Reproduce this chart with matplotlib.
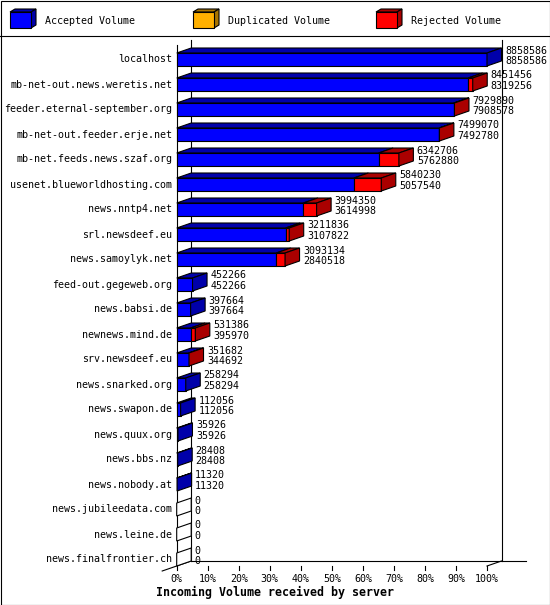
import matplotlib
matplotlib.use('Agg')
import matplotlib.pyplot as plt
from matplotlib.patches import Polygon, Rectangle

# ---------------- data ----------------
categories = [
    "localhost",
    "mb-net-out.news.weretis.net",
    "feeder.eternal-september.org",
    "mb-net-out.feeder.erje.net",
    "mb-net.feeds.news.szaf.org",
    "usenet.blueworldhosting.com",
    "news.nntp4.net",
    "srl.newsdeef.eu",
    "news.samoylyk.net",
    "feed-out.gegeweb.org",
    "news.babsi.de",
    "newnews.mind.de",
    "srv.newsdeef.eu",
    "news.snarked.org",
    "news.swapon.de",
    "news.quux.org",
    "news.bbs.nz",
    "news.nobody.at",
    "news.jubileedata.com",
    "news.leine.de",
    "news.finalfrontier.ch",
]
total_volume = [8858586, 8451456, 7929890, 7499070, 6342706, 5840230, 3994350,
                3211836, 3093134, 452266, 397664, 531386, 351682, 258294,
                112056, 35926, 28408, 11320, 0, 0, 0]
accepted_volume = [8858586, 8319256, 7908578, 7492780, 5762880, 5057540, 3614998,
                   3107822, 2840518, 452266, 397664, 395970, 344692, 258294,
                   112056, 35926, 28408, 11320, 0, 0, 0]
duplicated_volume = [0, 0, 0, 0, 0, 0, 0, 0, 0, 0, 0, 0, 0, 0, 0, 0, 0, 0, 0, 0, 0]
legend_labels = ["Accepted Volume", "Duplicated Volume", "Rejected Volume"]
tick_values = [0, 10, 20, 30, 40, 50, 60, 70, 80, 90, 100]
tick_labels = ["0%", "10%", "20%", "30%", "40%", "50%", "60%", "70%", "80%", "90%", "100%"]
x_title = "Incoming Volume received by server"

# ---------------- style ----------------
W, H = 550, 605
FONT = "DejaVu Sans Mono"
FS = 7.2
LW = 0.8
front_colors = ["#0000FF", "#FFB000", "#FF0000"]
dark_colors = ["#0000AA", "#A87400", "#AA0000"]

fig = plt.figure(figsize=(W / 100, H / 100), dpi=100)
fig.patch.set_facecolor("white")

# decoration layer in pixel units (frame + legend)
axd = fig.add_axes([0, 0, 1, 1])
axd.set_xlim(0, W)
axd.set_ylim(H, 0)
axd.axis("off")
axd.add_patch(Rectangle((0.5, 0.5), W - 1, H - 1, fill=False, ec="black", lw=LW))
axd.plot([0, W], [35.5, 35.5], color="black", lw=LW)
for k, lab in enumerate(legend_labels):
    x0 = 10 + 183 * k
    y0, y1 = 12, 28
    w = 21
    d, e = 5, 3
    axd.add_patch(Polygon([(x0, y0), (x0 + d, y0 - e), (x0 + w + d, y0 - e), (x0 + w, y0)],
                          closed=True, fc=dark_colors[k], ec="black", lw=LW))
    axd.add_patch(Polygon([(x0 + w, y0), (x0 + w + d, y0 - e), (x0 + w + d, y1 - e), (x0 + w, y1)],
                          closed=True, fc=dark_colors[k], ec="black", lw=LW))
    axd.add_patch(Rectangle((x0, y0), w, y1 - y0, fc=front_colors[k], ec="black", lw=LW))
    axd.text(x0 + 35, 20.5, lab, family=FONT, fontsize=FS, va="center", ha="left")

# main chart axes: x in percent of max, y in row index
ax = fig.add_axes([0, 0, 1, 1])
ax.patch.set_alpha(0)
ax.axis("off")
X0_PX, X100_PX = 176.7, 487.0
ROW0_PX, ROW_STEP = 59.5, 25.0
ppp = (X100_PX - X0_PX) / 100.0
ax.set_xlim(-X0_PX / ppp, (W - X0_PX) / ppp)
ax.set_ylim((H - ROW0_PX) / ROW_STEP, -ROW0_PX / ROW_STEP)

DX = 14.5 / ppp          # depth in x (percent units)
DY = -5.0 / ROW_STEP     # depth in y (row units, negative = up)
HH = 6.5 / ROW_STEP      # half height of bar front face
TOP = -14.2 / ROW_STEP   # top of front wall
FLOOR = 20 + HH          # front floor
vmax = max(total_volume)

# walls
ax.plot([0, 0], [TOP, FLOOR], color="black", lw=LW, zorder=1)
ax.plot([DX, DX], [TOP + DY, FLOOR + DY], color="black", lw=LW, zorder=1)
ax.plot([100 + DX, 100 + DX], [TOP + DY, FLOOR + DY], color="black", lw=LW, zorder=1)
ax.plot([DX, (526 - X0_PX) / ppp], [FLOOR + DY, FLOOR + DY], color="black", lw=LW, zorder=1)
ax.plot([-DX, DX], [FLOOR - DY, FLOOR + DY], color="black", lw=LW, zorder=1)
ax.plot([100, 100 + DX], [FLOOR, FLOOR + DY], color="black", lw=LW, zorder=1)
for tv, tl in zip(tick_values, tick_labels):
    ax.plot([tv, tv], [FLOOR, FLOOR + 4 / ROW_STEP], color="black", lw=LW, zorder=1)
    ax.text(tv, FLOOR + 12.5 / ROW_STEP, tl, family=FONT, fontsize=FS,
            ha="center", va="center")

# bars
for i, (cat, t, a, dup) in enumerate(zip(categories, total_volume, accepted_volume, duplicated_volume)):
    rej = t - a - dup
    parts = [a, dup, rej]
    start = 0.0
    last = None
    ytop, ybot = i - HH, i + HH
    for k, v in enumerate(parts):
        if v <= 0:
            continue
        p0 = start / vmax * 100
        p1 = (start + v) / vmax * 100
        ax.add_patch(Polygon([(p0, ytop), (p1, ytop), (p1 + DX, ytop + DY), (p0 + DX, ytop + DY)],
                             closed=True, fc=dark_colors[k], ec="black", lw=LW, zorder=2))
        ax.add_patch(Rectangle((p0, ytop), p1 - p0, ybot - ytop,
                               fc=front_colors[k], ec="black", lw=LW, zorder=3))
        start += v
        last = k
    pe = t / vmax * 100
    end_fc = dark_colors[last] if last is not None else "white"
    ax.add_patch(Polygon([(pe, ytop), (pe + DX, ytop + DY), (pe + DX, ybot + DY), (pe, ybot)],
                         closed=True, fc=end_fc, ec="black", lw=LW, zorder=4))
    # labels
    ax.text(-4.5 / ppp, i, cat, family=FONT, fontsize=FS, ha="right", va="center", zorder=5)
    tx = pe + DX + 3.5 / ppp
    ax.text(tx, i - 9.0 / ROW_STEP, str(t), family=FONT, fontsize=FS, ha="left", va="center", zorder=5)
    ax.text(tx, i + 1.8 / ROW_STEP, str(a), family=FONT, fontsize=FS, ha="left", va="center", zorder=5)

ax.text(50 * 0 + (275 - X0_PX) / ppp, (592 - ROW0_PX) / ROW_STEP, x_title, family=FONT,
        fontsize=8.4, fontweight="bold", ha="center", va="center")

fig.savefig("out.png", dpi=100)
